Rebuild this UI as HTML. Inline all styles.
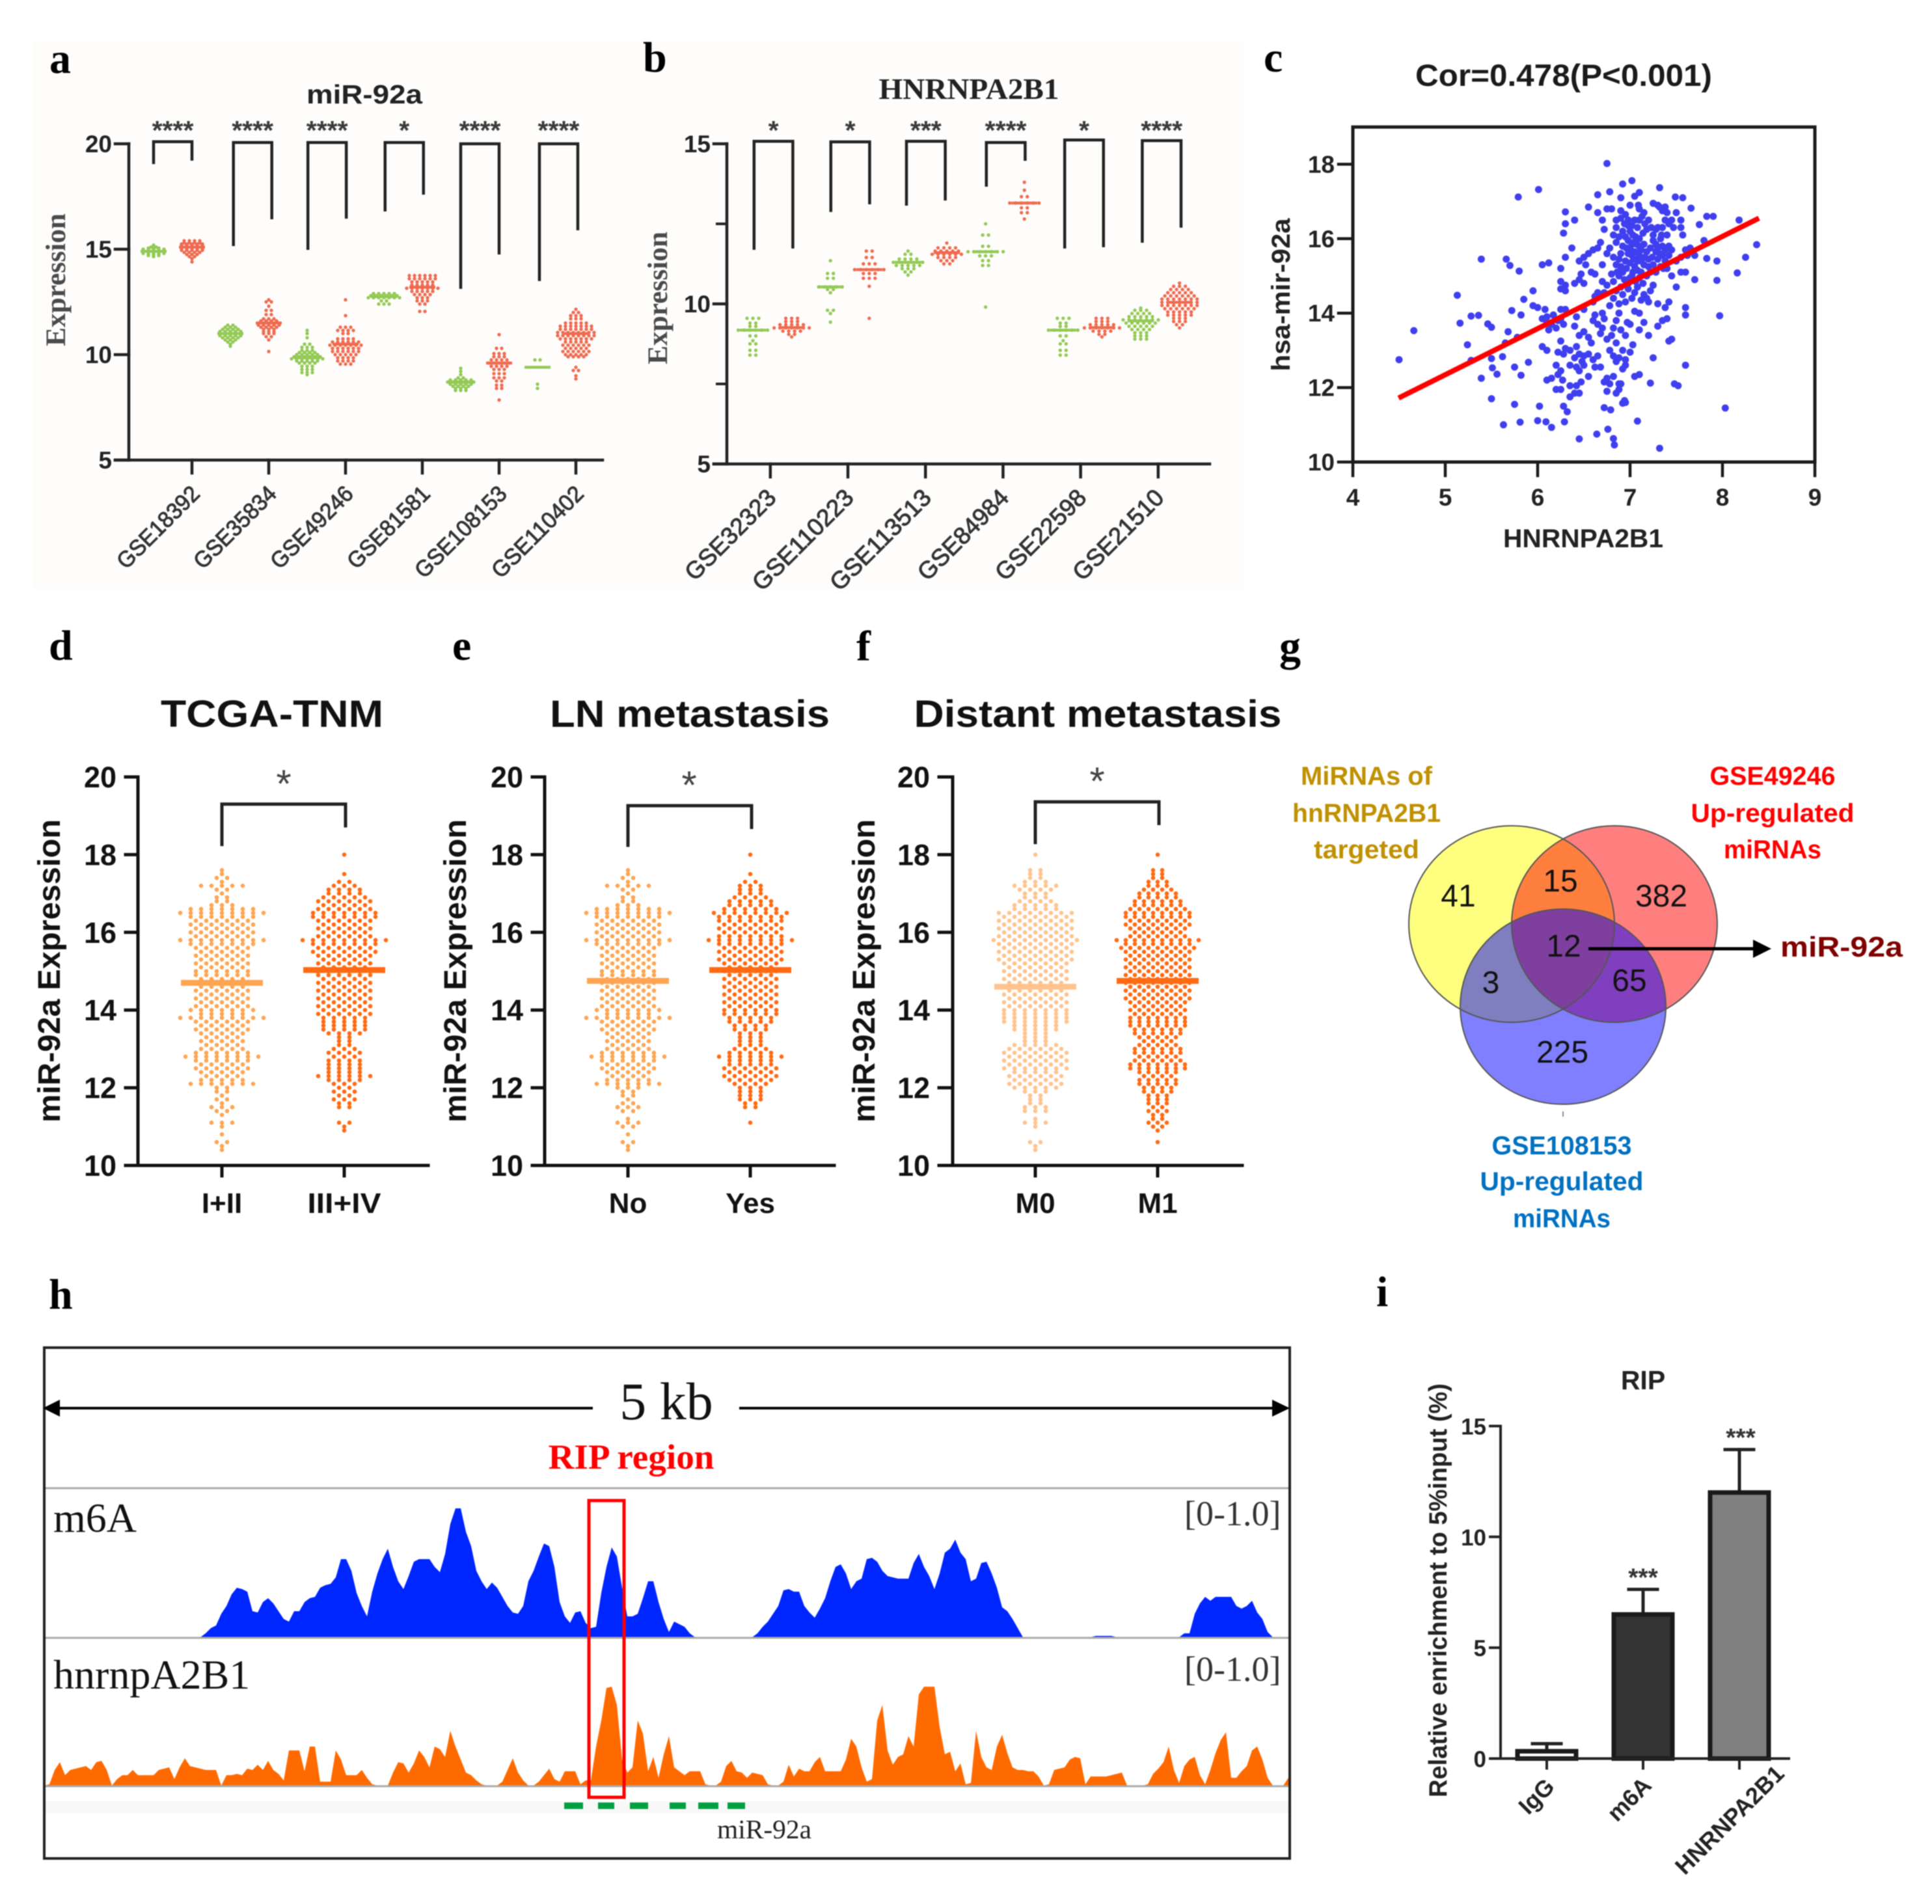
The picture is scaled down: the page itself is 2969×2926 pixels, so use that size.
<!DOCTYPE html>
<html lang="en">
<head>
<meta charset="utf-8">
<title>miR-92a and HNRNPA2B1 multi-panel figure</title>
<style>
html,body{margin:0;padding:0;background:#fff;}
svg{display:block;filter:blur(.7px);}
text{font-family:"Liberation Sans",sans-serif;}
.serif{font-family:"Liberation Serif",serif;}
.letter{font-family:"Liberation Serif",serif;font-weight:bold;font-size:66px;fill:#000;}
.b{font-weight:bold;}
</style>
</head>
<body>
<svg id="fig" width="2969" height="2926" viewBox="0 0 2969 2926">
<rect width="2969" height="2926" fill="#fff"/>
<rect x="50" y="62" width="1863" height="845" fill="#fefdfc"/>

<text class="letter" x="76" y="112">a</text>
<text class="letter" x="988" y="110">b</text>
<text class="letter" x="1942" y="110">c</text>
<text class="letter" x="75" y="1014">d</text>
<text class="letter" x="695" y="1014">e</text>
<text class="letter" x="1316" y="1015">f</text>
<text class="letter" x="1966" y="1015">g</text>
<text class="letter" x="75" y="2011">h</text>
<text class="letter" x="2115" y="2007">i</text>

<g id="panel-a">
<text class="b" x="560" y="159" font-size="41" text-anchor="middle" fill="#222" textLength="178" lengthAdjust="spacingAndGlyphs">miR-92a</text>
<text class="serif b" transform="translate(100,430) rotate(-90)" font-size="43" text-anchor="middle" fill="#4a4a4a" textLength="204" lengthAdjust="spacingAndGlyphs">Expression</text>
</g>

<g id="panel-b">
<text class="serif b" x="1489" y="152" font-size="46" text-anchor="middle" fill="#222" textLength="277" lengthAdjust="spacingAndGlyphs">HNRNPA2B1</text>
<text class="serif b" transform="translate(1025,458) rotate(-90)" font-size="43" text-anchor="middle" fill="#4a4a4a" textLength="204" lengthAdjust="spacingAndGlyphs">Expression</text>
</g>

<g id="panel-c">
<text class="b" x="2403" y="132" font-size="47" text-anchor="middle" fill="#1a1a1a" textLength="456" lengthAdjust="spacingAndGlyphs">Cor=0.478(P&lt;0.001)</text>
<text class="b" x="2433" y="841" font-size="40" text-anchor="middle" fill="#222" textLength="246" lengthAdjust="spacingAndGlyphs">HNRNPA2B1</text>
<text class="b" transform="translate(1982,453) rotate(-90)" font-size="40" text-anchor="middle" fill="#222" textLength="235" lengthAdjust="spacingAndGlyphs">hsa-mir-92a</text>
</g>

<g id="panel-d">
<text class="b" x="418" y="1117" font-size="58" text-anchor="middle" fill="#111" textLength="342" lengthAdjust="spacingAndGlyphs">TCGA-TNM</text>
<text class="b" transform="translate(92,1492) rotate(-90)" font-size="48" text-anchor="middle" fill="#111" textLength="466" lengthAdjust="spacingAndGlyphs">miR-92a Expression</text>
</g>

<g id="panel-e">
<text class="b" x="1060" y="1117" font-size="58" text-anchor="middle" fill="#111" textLength="430" lengthAdjust="spacingAndGlyphs">LN metastasis</text>
<text class="b" transform="translate(716,1492) rotate(-90)" font-size="48" text-anchor="middle" fill="#111" textLength="466" lengthAdjust="spacingAndGlyphs">miR-92a Expression</text>
</g>

<g id="panel-f">
<text class="b" x="1687" y="1117" font-size="58" text-anchor="middle" fill="#111" textLength="565" lengthAdjust="spacingAndGlyphs">Distant metastasis</text>
<text class="b" transform="translate(1344,1492) rotate(-90)" font-size="48" text-anchor="middle" fill="#111" textLength="466" lengthAdjust="spacingAndGlyphs">miR-92a Expression</text>
</g>

<g id="panel-g">
<ellipse cx="2323" cy="1420" rx="158" ry="151" fill="#ffff00" fill-opacity=".5"/>
<ellipse cx="2481" cy="1420" rx="158" ry="151" fill="#ff0000" fill-opacity=".5"/>
<ellipse cx="2402" cy="1547" rx="158" ry="150" fill="#0000ff" fill-opacity=".5"/>
<ellipse cx="2323" cy="1420" rx="158" ry="151" fill="none" stroke="#555" stroke-width="2"/>
<ellipse cx="2481" cy="1420" rx="158" ry="151" fill="none" stroke="#555" stroke-width="2"/>
<ellipse cx="2402" cy="1547" rx="158" ry="150" fill="none" stroke="#555" stroke-width="2"/>
<g font-size="48" text-anchor="middle" fill="#111">
<text x="2241" y="1393">41</text>
<text x="2398" y="1370">15</text>
<text x="2553" y="1393">382</text>
<text x="2403" y="1470">12</text>
<text x="2291" y="1526">3</text>
<text x="2504" y="1523">65</text>
<text x="2401" y="1633">225</text>
</g>
<g class="b" font-size="40" font-weight="bold" text-anchor="middle" fill="#bf9000">
<text x="2100" y="1206" textLength="202" lengthAdjust="spacingAndGlyphs">MiRNAs of</text>
<text x="2100" y="1263" textLength="228" lengthAdjust="spacingAndGlyphs">hnRNPA2B1</text>
<text x="2100" y="1319" textLength="162" lengthAdjust="spacingAndGlyphs">targeted</text>
</g>
<g font-size="40" font-weight="bold" text-anchor="middle" fill="#ff0000">
<text x="2724" y="1206" textLength="193" lengthAdjust="spacingAndGlyphs">GSE49246</text>
<text x="2724" y="1263" textLength="251" lengthAdjust="spacingAndGlyphs">Up-regulated</text>
<text x="2724" y="1319" textLength="150" lengthAdjust="spacingAndGlyphs">miRNAs</text>
</g>
<g font-size="40" font-weight="bold" text-anchor="middle" fill="#0070c0">
<text x="2400" y="1774" textLength="215" lengthAdjust="spacingAndGlyphs">GSE108153</text>
<text x="2400" y="1829" textLength="251" lengthAdjust="spacingAndGlyphs">Up-regulated</text>
<text x="2400" y="1886" textLength="150" lengthAdjust="spacingAndGlyphs">miRNAs</text>
</g>
<line x1="2402" y1="1708" x2="2402" y2="1716" stroke="#888" stroke-width="2"/>
<line x1="2441" y1="1458" x2="2700" y2="1458" stroke="#000" stroke-width="5"/>
<polygon points="2694,1444 2722,1458 2694,1472" fill="#000"/>
<text x="2736" y="1470" font-size="44" font-weight="bold" fill="#7f0000" textLength="188" lengthAdjust="spacingAndGlyphs">miR-92a</text>
</g>

<g id="panel-h">
<rect x="68" y="2768" width="1914" height="18" fill="#f8f8f8"/>
<g id="tracks"></g>
<line x1="68" y1="2287" x2="1982" y2="2287" stroke="#aaa" stroke-width="3"/>
<line x1="68" y1="2517" x2="1982" y2="2517" stroke="#aaa" stroke-width="3"/>
<line x1="68" y1="2745" x2="1982" y2="2745" stroke="#aaa" stroke-width="3"/>
<rect x="68" y="2071" width="1914" height="785" fill="none" stroke="#222" stroke-width="4"/>
<line x1="85" y1="2164" x2="911" y2="2164" stroke="#000" stroke-width="4"/>
<polygon points="66,2164 92,2151 92,2177" fill="#000"/>
<line x1="1136" y1="2164" x2="1960" y2="2164" stroke="#000" stroke-width="4"/>
<polygon points="1982,2164 1955,2151 1955,2177" fill="#000"/>
<text class="serif" x="1024" y="2181" font-size="82" text-anchor="middle" fill="#111">5 kb</text>
<text class="serif b" x="970" y="2257" font-size="54" text-anchor="middle" fill="#ff0000" textLength="255" lengthAdjust="spacingAndGlyphs">RIP region</text>
<text class="serif" x="82" y="2354" font-size="64" fill="#111">m6A</text>
<text class="serif" x="82" y="2595" font-size="64" fill="#111">hnrnpA2B1</text>
<text class="serif" x="1820" y="2344" font-size="54" fill="#333">[0-1.0]</text>
<text class="serif" x="1820" y="2583" font-size="54" fill="#333">[0-1.0]</text>
<rect x="905" y="2306" width="54" height="456" fill="none" stroke="#ff0000" stroke-width="5"/>
<rect x="867" y="2770" width="29" height="10" fill="#00a040"/>
<rect x="919" y="2770" width="25" height="10" fill="#00a040"/>
<rect x="968" y="2770" width="28" height="10" fill="#00a040"/>
<rect x="1029" y="2770" width="25" height="10" fill="#00a040"/>
<rect x="1073" y="2770" width="31" height="10" fill="#00a040"/>
<rect x="1118" y="2770" width="27" height="10" fill="#00a040"/>
<text class="serif" x="1102" y="2825" font-size="41" fill="#222" textLength="145" lengthAdjust="spacingAndGlyphs">miR-92a</text>
</g>

<g id="panel-i">
<text class="b" x="2525" y="2135" font-size="41" text-anchor="middle" fill="#222">RIP</text>
<text class="b" transform="translate(2223,2444) rotate(-90)" font-size="39" text-anchor="middle" fill="#222" textLength="636" lengthAdjust="spacingAndGlyphs">Relative enrichment to 5%input (%)</text>
<text class="b" transform="translate(2391,2748) rotate(-45)" font-size="36" text-anchor="end" fill="#222">IgG</text>
<text class="b" transform="translate(2540,2746) rotate(-45)" font-size="36" text-anchor="end" fill="#222">m6A</text>
<text class="b" transform="translate(2744,2728) rotate(-45)" font-size="36" text-anchor="end" fill="#222" textLength="219" lengthAdjust="spacingAndGlyphs">HNRNPA2B1</text>
</g>
</svg>

<script>
/* ---------- panel a data ---------- */
const aCategories=['GSE18392','GSE35834','GSE49246','GSE81581','GSE108153','GSE110402'];
const aTicks=[5,10,15,20];
const aMeans=[14.9,15.1,11,11.5,9.85,10.5,12.75,13.2,8.7,9.6,9.4,11];
const aStars=['****','****','****','*','****','****'];
const aBracketStart=[0,2.08,4.02,6.03,8,10.05];
const aBracketTop=[20.1,20.06,20.06,20.06,20,20];
const aBracketLeftEnd=[19.04,15.15,14.97,16.79,13.12,13.49];
const aBracketRightEnd=[19.2,16.42,16.45,17.59,14.75,15.9];
const aGroups=[
[[14.65,1],[14.7,3],[14.75,3],[14.8,5],[14.85,5],[14.9,5],[14.95,5],[15,5],[15.05,3],[15.1,2],[15.2,1]],
[[14.4,1],[14.55,1],[14.65,2],[14.75,3],[14.85,4],[14.95,5],[15,5],[15.05,5],[15.1,5],[15.15,5],[15.2,5],[15.25,5],[15.3,4],[15.4,4]],
[[10.4,1],[10.5,1],[10.6,2],[10.7,3],[10.8,4],[10.9,5],[11,5],[11.1,5],[11.2,4],[11.3,3],[11.4,2]],
[[10.15,1],[10.7,1],[10.85,2],[11,3],[11.1,3],[11.2,3],[11.3,4],[11.4,5],[11.5,5],[11.6,4],[11.7,3],[11.9,2],[12.1,2],[12.3,1],[12.5,2],[12.6,1]],
[[9.05,1],[9.15,3],[9.3,3],[9.45,3],[9.6,4],[9.7,5],[9.8,7],[9.9,6],[10,5],[10.1,4],[10.2,3],[10.35,3],[10.5,2],[10.8,1],[11,1],[11.15,1]],
[[9.55,3],[9.7,4],[9.85,4],[10,5],[10.15,6],[10.3,6],[10.45,7],[10.6,6],[10.75,4],[11,2],[11.15,4],[11.3,3],[11.85,1],[12.6,1]],
[[12.4,3],[12.55,2],[12.7,7],[12.8,6],[12.9,5]],
[[12.05,2],[12.4,2],[12.55,3],[12.7,3],[12.85,4],[13,5],[13.15,7],[13.3,5],[13.45,5],[13.6,6],[13.75,6]],
[[8.3,3],[8.4,3],[8.5,4],[8.6,5],[8.7,6],[8.8,5],[8.9,2],[9.05,1],[9.2,1],[9.35,1]],
[[7.85,1],[8.4,2],[8.55,2],[8.75,2],[8.9,3],[9.1,3],[9.3,3],[9.45,4],[9.6,5],[9.75,4],[9.9,3],[10.05,3],[10.3,2],[10.95,1]],
[[8.4,1],[8.6,1],[9.75,2]],
[[8.85,1],[9,1],[9.25,2],[9.4,1],[9.9,4],[10,5],[10.15,6],[10.3,5],[10.45,6],[10.6,5],[10.75,7],[10.9,8],[11.05,8],[11.2,7],[11.35,7],[11.5,5],[11.7,3],[11.85,3],[12,2],[12.15,1]]
];

/* ---------- panel b data ---------- */
const bCategories=['GSE32323','GSE110223','GSE113513','GSE84984','GSE22598','GSE21510'];
const bTicks=[5,10,15];
const bMinorTicks=[7.5,12.5];
const bMeans=[9.18,9.26,10.53,11.07,11.3,11.6,11.63,13.15,9.18,9.26,9.47,10.05];
const bStars=['*','*','***','****','*','****'];
const bBracketStart=[0.03,2.01,3.96,6.02,8.04,10.04];
const bBracketTop=[15.08,15.06,15.08,15.04,15.12,15.1];
const bBracketLeftEnd=[11.69,12.87,13.07,13.66,11.73,11.91];
const bBracketRightEnd=[11.73,13.11,13.23,14.47,11.77,12.38];
const bGroups=[
[[8.4,2],[8.55,2],[8.75,2],[8.85,1],[9,2],[9.18,6],[9.3,2],[9.4,2],[9.55,3]],
[[8.97,1],[9.05,2],[9.15,4],[9.25,7],[9.35,5],[9.45,3],[9.55,3]],
[[9.43,1],[9.7,1],[9.8,2],[10.35,1],[10.45,2],[10.53,5],[10.8,2],[10.95,2],[11.35,1]],
[[9.55,1],[10.55,1],[10.8,3],[10.95,3],[11.07,6],[11.25,3],[11.45,2],[11.65,2]],
[[10.9,1],[11,2],[11.1,3],[11.2,5],[11.3,6],[11.4,4],[11.55,2],[11.65,1]],
[[11.25,2],[11.35,3],[11.45,4],[11.55,6],[11.65,5],[11.75,4],[11.9,1]],
[[9.9,1],[11.2,2],[11.35,2],[11.5,3],[11.63,7],[11.8,2],[12.15,2],[12.5,1]],
[[12.65,1],[12.85,2],[13,2],[13.15,6],[13.35,2],[13.55,1],[13.8,1]],
[[8.4,2],[8.55,2],[8.75,2],[8.85,1],[9,2],[9.18,6],[9.3,2],[9.4,2],[9.55,3]],
[[8.97,1],[9.05,2],[9.15,4],[9.25,7],[9.35,5],[9.45,3],[9.55,3]],
[[8.9,3],[9,3],[9.1,3],[9.2,4],[9.3,5],[9.4,6],[9.5,7],[9.6,5],[9.7,4],[9.8,3],[9.87,1]],
[[9.25,1],[9.35,2],[9.45,3],[9.55,3],[9.65,5],[9.75,5],[9.85,6],[9.95,7],[10.05,7],[10.15,7],[10.25,6],[10.35,5],[10.45,4],[10.55,3],[10.65,1]]
];

/* ---------- panel c data ---------- */
const cXTicks=[4,5,6,7,8,9];
const cYTicks=[10,12,14,16,18];
const cFitX=[4.52,8.37];
const cFitY=[11.75,16.52];
const cPoints=[[4.5,12.75],[4.66,13.53],[5.13,14.48],[5.16,13.73],[5.24,13.15],[5.28,13.92],[5.36,13.94],[5.39,15.45],[5.46,13.71],[5.5,13.62],[5.28,12.73],[5.5,12.78],[5.51,12.53],[5.56,12.36],[5.39,12.25],[5.5,11.7],[5.66,15.45],[5.7,15.28],[5.79,17.12],[6.01,17.32],[5.8,15.13],[5.75,11.55],[5.63,11],[5.81,11.07],[6,11.11],[6.09,11.08],[6.15,10.93],[6.29,11.08],[6.02,11.5],[6.28,11.5],[6.32,11.35],[6.45,10.62],[6.64,10.75],[6.76,10.88],[6.82,10.63],[6.83,10.46],[7.32,10.37],[7.08,11.1],[8.03,11.45],[6.72,11.46],[6.79,11.4],[6.92,11.58],[6.94,11.65],[8.37,15.84],[8.18,16.5],[8.25,15.5],[8.16,15.08],[7.94,15.4],[7.94,14.88],[7.97,13.93],[7.9,16.6],[7.83,16.6],[7.83,15.47],[7.8,15.95],[7.75,16.38],[7.66,16.82],[7.57,17.1],[7.49,17.12],[7.32,17.37],[7.02,17.56],[6.92,17.47],[6.75,18.02],[6.78,17.26],[6.65,17.18],[6.9,17.1],[7.05,17.14],[7.1,17.24],[7.09,16.9],
[5.68,13.5],[5.65,13.2],[5.78,13.35],[5.62,12.83],[5.75,12.55],[5.82,12.33],[5.9,12.68],[5.82,13.95],[5.85,14.37],[5.72,14.07],[5.95,14.6],
[6.1,13.9],[6.15,13.7],[6.05,13.85],[6.1,13.75],[6.2,13.6],[6.12,13.55],[6.17,13.95],[6.08,14.1],[6,14.15],[5.95,14.2],[6.22,13.8],[6.25,14.1],[6.25,13.85],[6.28,13.7],[6.3,14.1],[6.05,13.1],[6.1,13],[6.25,13.25],[6.3,13.05],[6.22,12.95],[6.28,12.9],[6.35,13],[6.42,13.1],[6.45,12.9],[6.4,12.8],[6.48,12.7],[6.5,12.85],[6.55,12.9],[6.58,13.2],[6.55,13.35],[6.45,13.4],[6.5,13.5],[6.4,13.65],[6.42,13.9],[6.5,14.1],[6.6,14.3],[6.62,13.95],[6.6,13.8],[6.65,13.7],[6.7,14],[6.72,13.85],[6.7,13.6],[6.68,13.45],[6.75,13.3],[6.8,13.4],[6.82,13.6],[6.85,13.8],[6.88,14],[6.78,14.2],[6.82,14.4],[6.88,14.25],[6.9,13.55],[6.95,13.4],[6.97,13.75],[7,13.7],[6.85,13.2],[6.78,13],[6.82,12.85],[6.85,12.7],[6.88,12.8],[6.92,13],[7,12.95],[7.03,13.15],[6.95,12.75],[6.92,12.5],[6.95,12.6],[7.05,12.3],[7.1,12.35],[7.22,12.12],[7.25,12.8],[7.2,13.4],[7.1,13.55],[7.15,13.75],[7.3,13.65],[7.35,13.8],[7.4,13.85],[7.42,13.25],[7.45,13.3],[7.6,13.95],[7.6,14.15],[7.42,14.3],[7.38,14.15],[7.3,14.25],[7.6,12.6],[7.52,12.05],[7.48,12.1],
[6.15,12.25],[6.1,12.2],[6.2,12.6],[6.25,12.45],[6.22,12.35],[6.27,12.2],[6.2,11.95],[6.25,11.95],[6.35,11.75],[6.4,11.85],[6.45,11.85],[6.35,12.05],[6.42,12.05],[6.47,12.15],[6.35,12.6],[6.42,12.55],[6.45,12.45],[6.5,12.6],[6.55,12.3],[6.62,12.55],[6.68,12.55],[6.65,12.85],[6.6,12.75],[6.75,12.25],[6.78,12.1],[6.82,12.3],[6.75,11.9],[6.72,12.15],[6.88,12.1],[6.9,12.1],[6.85,11.85],[6.88,11.95],[6.95,11.6],
[6.3,14.6],[6.25,14.85],[6.25,14.65],[6.3,14.75],[6.25,15.2],[6.05,15.3],[6.12,15.35],[6.3,15.5],[6.37,15.75],[6.4,16.5],[6.3,16.72],[6.3,16.4],[6.28,16.15],[6.4,14.8],[6.45,14.9],[6.47,15.05],[6.5,14.8],[6.45,15.4],[6.5,15.5],[6.55,15.6],[6.52,15.3],[6.58,15.1],[6.6,15.7],[6.65,15.75],[6.68,15.9],[6.55,16.85],[6.65,16.7],[6.7,16.5],[6.72,16.25],[6.75,16.8],[6.75,15.6],[6.7,15.3],[6.62,15.05],[6.7,14.85],[6.72,14.55],[6.62,14.45],[6.65,14.55],[6.75,14.75],[6.8,15.05],[6.85,14.6],[6.82,14.85],[6.88,15],[6.9,14.7],[6.95,14.3],[6.92,14.5],[6.98,14.65],[7.02,14.4],[7.05,14.55],[7.08,14.7],[7.12,14.35],[7.15,14.5],[7.18,14.4],[7.2,14.3],[7.1,14],[7.05,14.05],[7.22,14.6],[7.25,14.75],[7,14.95],[7.03,15.1],[7.05,15.25],[7.08,15.4],[7.1,15.55],[7.12,15.1],[7.15,15.3],[7.18,15],[7.22,15.1],[7.25,15.3],[7.28,15.1],[7.3,15.45],[7.33,15.25],[7.35,15.55],[7.38,15.4],[7.4,15.2],[7.42,15.55],[7.45,15],[7.5,15.4],[7.55,15.1],[7.6,15.1],[7.55,15.5],[7.6,15.7],[7.62,15.55],[7.65,15.75],[7.7,14.9],[7.7,15.55],[7.5,14.7],
[6.85,15.3],[6.88,15.45],[6.9,15.6],[6.82,15.5],[6.92,15.8],[6.95,15.4],[6.98,15.6],[7,15.75],[7.02,15.55],[7.04,15.9],[6.98,15.95],[6.95,16.05],[6.92,16.2],[7,16.2],[7.03,16.1],[7.05,15.65],[7.07,15.85],[7.1,16],[7.12,15.7],[7.15,15.85],[7.18,15.65],[7.2,15.45],[7.22,15.75],[7.25,15.95],[7.28,15.65],[7.3,15.75],[7.33,16],[7.35,15.8],[7.38,15.7],[7.42,15.8],[7.45,15.7],[7.02,16.35],[7.05,16.5],[7.08,16.3],[7.1,16.5],[7.13,16.6],[7.16,16.4],[7.2,16.5],[7.23,16.3],[7.25,16.1],[7.28,16.25],[7.3,16.3],[7.32,16.85],[7.35,16.75],[7.38,16.85],[7.3,16.9],[7.4,16.7],[7.42,16.4],[7.45,16.5],[7.47,16.3],[7.5,16.7],[7.55,16.5],[7.55,16.3],[7.57,16.1],[6.85,16.3],[6.82,16.1],[6.85,16.5],[6.88,16.05],[6.9,16.55],[6.95,16.65],[6.98,16.5],[6.85,15.9],[6.78,15.75],[6.8,16.8],[7.1,16.8],[7,16.9],[6.9,16.75],[7.15,16.7],[7.25,16.95],[7.35,16.3],[7.4,16.1],
[6.96,15.2],[7,15.35],[7.04,15.45],[7.08,15.15],[7.02,15],[7.1,15.8],[7.06,16.05],[7.14,16.15],[7.18,16.25],[7.12,15.4],[7.16,15.5],[7.2,15.25],[7.24,15.5],[7.28,15.85],[7.32,15.6],[7.36,15.2],[6.92,15.1],[6.94,14.9],[6.98,14.8],[7.06,14.85],[7.1,14.95],[7.14,14.8],[6.98,16.35],[6.94,16.4],[7.02,15.85],[6.96,15.75],[6.9,15.25],[6.86,15.1],[7.34,16.1],[7.38,16.5]];

/* ---------- panels d, e, f data (dots per expression level) ---------- */
const swarmTicks=[10,12,14,16,18,20];
const swarmLevels=[10.4,10.5,10.6,10.7,10.8,10.9,
11,11.1,11.2,11.3,11.4,11.5,11.6,11.7,11.8,11.9,
12,12.1,12.2,12.3,12.4,12.5,12.6,12.7,12.8,12.9,
13,13.1,13.2,13.3,13.4,13.5,13.6,13.7,13.8,13.9,
14,14.1,14.2,14.3,14.4,14.5,14.6,14.7,14.8,14.9,
15,15.1,15.2,15.3,15.4,15.5,15.6,15.7,15.8,15.9,
16,16.1,16.2,16.3,16.4,16.5,16.6,16.7,16.8,16.9,
17,17.1,17.2,17.3,17.4,17.5,17.6,17.7,17.8,17.9,
18,18.1];
const dCountsEarly=[1,1,2,0,1,0, 1,3,0,1,2,3,1,2,1,2, 2,7,5,4,5,6,5,6,8,6, 5,4,5,4,5,6,5,6,9,5, 7,6,5,6,5,6,5,6,5,6, 6,5,6,5,6,5,6,7,9,6, 7,6,7,6,7,9,7,3,2,2, 1,2,5,1,2,1,1,0,0,0, 0,0];
const dCountsLate=[0,0,0,0,0,1, 1,2,0,0,0,2,2,3,2,3, 2,3,4,6,4,4,4,4,3,4, 3,2,2,2,4,5,5,5,5,6, 5,6,5,6,5,6,5,6,5,6, 6,5,6,5,6,7,6,7,9,6, 5,6,5,6,7,7,6,5,6,5, 4,4,3,2,0,1,0,0,0,0, 1,0];
const eCountsNo=[1,1,2,0,1,0, 2,3,1,0,2,3,2,1,2,2, 3,7,5,4,5,6,5,6,8,6, 5,4,5,4,5,6,5,6,9,5, 7,6,5,6,5,6,5,6,5,6, 6,5,6,5,6,5,6,7,9,6, 7,6,7,6,7,9,7,3,2,2, 1,2,5,1,2,1,1,0,0,0, 0,0];
const eCountsYes=[0,0,0,0,0,0, 0,1,0,0,0,2,2,3,3,3, 3,4,5,6,5,6,5,5,7,5, 4,3,3,3,3,4,4,5,5,6, 6,5,6,5,6,5,6,5,6,5, 6,5,6,7,6,7,6,7,9,7, 6,7,6,7,7,8,6,5,5,4, 3,3,3,2,0,1,0,0,0,0, 1,0];
const fCountsM0=[1,1,2,0,0,0, 1,3,1,0,3,3,2,2,2,3, 5,6,5,6,5,7,6,7,6,7, 6,5,3,3,3,5,5,7,7,7, 7,6,7,6,7,6,7,6,7,6, 7,6,7,8,7,8,7,8,9,8, 7,8,7,8,7,8,5,5,4,3, 3,4,5,3,2,2,2,0,0,0, 1,0];
const fCountsM1=[0,0,1,0,0,1, 2,3,2,2,3,2,3,3,3,4, 4,5,5,4,5,7,7,6,5,6, 6,5,4,5,6,6,7,7,7,6, 7,6,7,8,7,8,7,8,7,8, 7,8,7,8,7,8,9,8,10,7, 6,7,8,7,8,8,7,6,6,5, 5,4,3,3,2,2,2,0,0,0, 1,0];
const dCategories=['I+II','III+IV'];
const eCategories=['No','Yes'];
const fCategories=['M0','M1'];
const dMeans=[14.7,15.03];
const eMeans=[14.75,15.03];
const fMeans=[14.6,14.75];
const dBracket=[19.3,18.22,18.7];
const eBracket=[19.26,18.2,18.66];
const fBracket=[19.36,18.27,18.76];

/* ---------- panel h data (signal % per 8-px genome bin) ---------- */
const m6aSignal=[0,0,0,0,0,0,0,0,0,0,0,0,0,0,0,0,0,0,0,0,0,0,0,0,0,0,0,0,0,0,0,
3,7,9,18,24,33,38,37,35,20,
19,27,30,26,20,14,12,20,20,27,
30,31,38,40,41,46,60,60,51,34,
24,16,35,49,60,68,54,43,37,47,
58,60,60,60,54,50,64,87,99,99,
81,70,51,43,37,42,38,31,24,19,
18,24,43,51,62,72,70,54,27,16,
11,19,20,11,7,8,34,54,69,62,
38,16,16,18,30,43,43,27,14,4,
12,10,8,3,
0,0,0,0,0,0,0,0,0,0,0,0,
3,8,12,18,
24,36,37,35,35,24,19,15,22,30,
43,54,56,49,37,43,45,60,61,58,
51,47,46,45,45,45,57,64,54,47,
37,49,65,68,75,65,60,43,45,57,
58,49,38,23,20,14,7,
0,0,0,0,0,0,0,0,0,0,0,0,0,0,
1,1,1,1,
0,0,0,0,0,0,0,0,0,0,0,0,0,
3,3,18,26,31,28,31,31,31,31,24,22,24,28,19,14,4,
0,0,0,0];
const hnrnpSignal=[0,1,12,18,8,12,13,14,15,12,
18,19,12,0,5,8,8,12,8,8,
8,8,12,13,14,5,14,21,15,14,
13,12,12,12,0,8,8,9,8,13,
12,16,12,19,12,9,4,27,27,27,
11,30,30,3,3,3,27,20,8,8,
8,12,6,1,0,0,0,10,18,17,
10,17,27,22,14,30,28,22,42,30,
20,10,8,4,1,0,0,0,3,12,
21,10,4,0,0,3,8,13,5,3,
11,11,11,1,4,4,30,50,75,76,
62,20,10,14,50,40,11,22,6,24,
38,14,11,8,11,11,11,1,0,0,
3,15,19,11,10,6,10,9,8,1,
0,0,3,16,7,13,11,11,18,22,
11,11,11,11,20,36,30,14,3,5,
50,62,27,16,22,24,38,30,70,76,
76,76,45,24,26,11,17,1,2,42,
22,14,12,30,39,25,14,12,12,11,
11,7,0,1,12,13,14,20,22,21,
1,7,7,7,7,8,9,10,0,0,
0,0,1,9,13,18,30,12,2,15,
20,22,8,1,12,25,35,41,6,6,
11,15,27,30,20,6,0,0,0,6];

/* ---------- panel i data ---------- */
const iTicks=[0,5,10,15];
const iCategories=['IgG','m6A','HNRNPA2B1'];
const iValues=[0.33,6.5,12];
const iErrorTops=[0.67,7.63,13.94];
const iFills=['#ffffff','#333333','#808080'];
const iStars=['','***','***'];

/* ---------- helpers ---------- */
const SVGNS=document.getElementById('fig').namespaceURI;
function panel(id){return document.getElementById(id);}
function mk(tag,parent,attrs,name){
  const el=document.createElementNS(SVGNS,tag);
  for(const k in attrs){el.setAttribute(k,attrs[k]);}
  
  
  parent.appendChild(el);
  return el;
}
function ln(p,x1,y1,x2,y2,color,w,name){return mk('line',p,{x1,y1,x2,y2,stroke:color,'stroke-width':w,'stroke-linecap':'square'},name);}
function label(p,x,y,str,size,anchor,weight,color,name,extra){
  const el=mk('text',p,Object.assign({x,y,'font-size':size,'text-anchor':anchor,'font-weight':weight,fill:color},extra||{}),name);
  el.textContent=str;
  return el;
}
function dots(p,rows,cx,yFn,spacing,r,color,name){
  rows.forEach(function(row){
    const v=row[0],c=row[1];
    for(let i=0;i<c;i++){
      mk('circle',p,{cx:cx+(i-(c-1)/2)*spacing,cy:yFn(v),r:r,fill:color},name);
    }
  });
}
function bracket(p,x1,x2,yTop,yLeft,yRight,w,name){
  mk('path',p,{d:'M'+x1+' '+yLeft+'V'+yTop+'H'+x2+'V'+yRight,fill:'none',stroke:'#222','stroke-width':w,'stroke-linejoin':'miter'},name);
}

/* ---------- panels a and b ---------- */
function datasetPanel(g,cfg){
  const y=cfg.y,x=cfg.x;
  ln(g,cfg.axisX,y(cfg.top),cfg.axisX,y(5),'#222',4.5,'y-axis-line');
  ln(g,cfg.tickStart,y(5),cfg.axisEnd,y(5),'#222',4.5,'x-axis-line');
  cfg.ticks.forEach(function(t){
    ln(g,cfg.tickStart,y(t),cfg.axisX,y(t),'#222',4.5,'y-tick');
    label(g,cfg.tickStart-5,y(t)+13,String(t),37,'end','bold','#222','y-tick-label');
  });
  cfg.minor.forEach(function(t){ln(g,cfg.tickStart+5,y(t),cfg.axisX,y(t),'#222',4,'y-minor-tick');});
  cfg.groups.forEach(function(rows,i){
    const col=i%2===0?'#93c955':'#ee6b50';
    dots(g,rows,x(i),y,cfg.spacing,2.7,col,i%2===0?'normal-dot':'tumor-dot');
    mk('rect',g,{x:x(i)-20,y:y(cfg.means[i])-2.2,width:40,height:4.4,fill:col},'mean-line');
  });
  cfg.cats.forEach(function(c,i){
    const tx=x(i*2+cfg.tickShift);
    ln(g,tx,y(5),tx,y(5)+20,'#222',4.5,'x-tick');
    const bx=tx+cfg.labelDx,by=cfg.labelY;
    const len=(c.length===9?cfg.len9:cfg.len8);
    label(g,0,0,c,cfg.labelSize,'end','normal','#333','x-tick-label',{transform:'translate('+bx+','+by+') rotate(-45)',textLength:len,lengthAdjust:'spacingAndGlyphs',stroke:'#333','stroke-width':1});
    const xa=x(cfg.bStart[i]),xb=x(cfg.bStart[i]+1);
    bracket(g,xa,xb,y(cfg.bTop[i]),y(cfg.bLeft[i]),y(cfg.bRight[i]),4.5,'significance-bracket');
    label(g,(xa+xb)/2,214,cfg.stars[i],41,'middle','bold','#3a3a3a','significance-stars');
  });
}
datasetPanel(panel('panel-a'),{
  y:function(v){return 707-(v-5)*32.4;},x:function(g){return 236+59*g;},
  axisX:198,tickStart:177,axisEnd:926,top:20,ticks:aTicks,minor:[],groups:aGroups,means:aMeans,cats:aCategories,
  spacing:8,tickShift:1,labelDx:14,labelY:761,labelSize:35,len8:163,len9:183,
  bStart:aBracketStart,bTop:aBracketTop,bLeft:aBracketLeftEnd,bRight:aBracketRightEnd,stars:aStars
});
datasetPanel(panel('panel-b'),{
  y:function(v){return 713-(v-5)*49.2;},x:function(g){return 1157+59.6*g;},
  axisX:1117,tickStart:1097,axisEnd:1859,top:15,ticks:bTicks,minor:bMinorTicks,groups:bGroups,means:bMeans,cats:bCategories,
  spacing:9,tickShift:0.45,labelDx:11,labelY:767,labelSize:37,len8:180,len9:202,
  bStart:bBracketStart,bTop:bBracketTop,bLeft:bBracketLeftEnd,bRight:bBracketRightEnd,stars:bStars
});

/* ---------- panel c ---------- */
(function(){
  const g=panel('panel-c');
  const x=function(v){return 2079+(v-4)*142;};
  const y=function(v){return 710-(v-10)*57.2;};
  cPoints.forEach(function(p){
    mk('circle',g,{cx:x(p[0]),cy:y(p[1]),r:5.5,fill:'#3f3ff0'},'scatter-point');
  });
  ln(g,x(cFitX[0]),y(cFitY[0]),x(cFitX[1]),y(cFitY[1]),'#ff0000',8,'regression-line');
  mk('rect',g,{x:x(4),y:y(19),width:x(9)-x(4),height:y(10)-y(19),fill:'none',stroke:'#1a1a1a','stroke-width':5},'plot-frame');
  cXTicks.forEach(function(t){
    ln(g,x(t),y(10),x(t),y(10)+21,'#1a1a1a',4.5,'x-tick');
    label(g,x(t),777,String(t),37,'middle','bold','#222','x-tick-label');
  });
  cYTicks.forEach(function(t){
    ln(g,x(4)-22,y(t),x(4),y(t),'#1a1a1a',4.5,'y-tick');
    label(g,2051,y(t)+13,String(t),37,'end','bold','#222','y-tick-label');
  });
})();

/* ---------- panels d, e, f ---------- */
function swarmPanel(g,cfg){
  const y=function(v){return 1791-(v-10)*59.7;};
  const rowsOf=function(counts){return swarmLevels.map(function(v,i){return [v,counts[i]||0];});};
  ln(g,cfg.axisX,y(20),cfg.axisX,y(10),'#111',5,'y-axis-line');
  ln(g,cfg.tickStart,y(10),cfg.axisEnd,y(10),'#111',5,'x-axis-line');
  swarmTicks.forEach(function(t){
    ln(g,cfg.tickStart,y(t),cfg.axisX,y(t),'#111',5,'y-tick');
    label(g,cfg.tickStart-14,y(t)+16,String(t),45,'end','bold','#111','y-tick-label');
  });
  cfg.cats.forEach(function(c,i){
    dots(g,rowsOf(cfg.counts[i]),cfg.xs[i],y,cfg.spacing[i],3.3,cfg.colors[i],'sample-dot');
    mk('rect',g,{x:cfg.xs[i]-63,y:y(cfg.means[i])-4.5,width:126,height:9,fill:cfg.colors[i]},'mean-line');
    ln(g,cfg.xs[i],y(10),cfg.xs[i],y(10)+16,'#111',5,'x-tick');
    label(g,cfg.xs[i],1864,c,44,'middle','bold','#111','x-tick-label',c==='III+IV'?{textLength:113,lengthAdjust:'spacingAndGlyphs'}:{});
  });
  bracket(g,cfg.xs[0],cfg.xs[1]+2,y(cfg.bracket[0]),y(cfg.bracket[1]),y(cfg.bracket[2]),5,'significance-bracket');
  label(g,cfg.starX,y(cfg.bracket[0])-11,'*',60,'middle','normal','#444','significance-star');
}
swarmPanel(panel('panel-d'),{axisX:212,tickStart:193,axisEnd:658,xs:[341,529],spacing:[16,16],cats:dCategories,counts:[dCountsEarly,dCountsLate],colors:['#ffa552','#ff6a13'],means:dMeans,bracket:dBracket,starX:436});
swarmPanel(panel('panel-e'),{axisX:837,tickStart:818,axisEnd:1282,xs:[965,1153],spacing:[16,16],cats:eCategories,counts:[eCountsNo,eCountsYes],colors:['#ffa552','#ff6a13'],means:eMeans,bracket:eBracket,starX:1059});
swarmPanel(panel('panel-f'),{axisX:1464,tickStart:1443,axisEnd:1909,xs:[1591,1779],spacing:[16,14],cats:fCategories,counts:[fCountsM0,fCountsM1],colors:['#ffc48e','#ff6a13'],means:fMeans,bracket:fBracket,starX:1686});

/* ---------- panel h ---------- */
(function(){
  const g=panel('tracks');
  const x=function(i){return 68+8*i;};
  const area=function(values,base){
    let d='M'+x(0)+' '+base;
    values.forEach(function(v,i){d+='L'+x(i)+' '+(base-v*2);});
    return d+'L'+x(values.length-1)+' '+base+'Z';
  };
  mk('path',g,{d:area(m6aSignal,2516),fill:'#0026ff'},'m6a-signal-area');
  mk('path',g,{d:area(hnrnpSignal,2744),fill:'#ff6a00'},'hnrnpa2b1-signal-area');
})();

/* ---------- panel i ---------- */
(function(){
  const g=panel('panel-i');
  const y=function(v){return 2702.5-v*34.07;};
  const x=function(i){return 2377+i*148;};
  iCategories.forEach(function(c,i){
    ln(g,x(i),y(iValues[i]),x(i),y(iErrorTops[i]),'#222',5,'error-bar');
    ln(g,x(i)-22,y(iErrorTops[i]),x(i)+22,y(iErrorTops[i]),'#222',5,'error-cap');
    mk('rect',g,{x:x(i)-45,y:y(iValues[i]),width:90,height:y(0)-y(iValues[i]),fill:iFills[i],stroke:'#1a1a1a','stroke-width':7},'bar-'+c.toLowerCase());
    ln(g,x(i),y(0),x(i),y(0)+15,'#222',4,'x-tick');
    if(iStars[i]){label(g,x(i)+(i===2?2:0),y(iErrorTops[i])-5,iStars[i],39,'middle','bold','#333','significance-stars');}
  });
  ln(g,2306,y(15),2306,y(0),'#222',4,'y-axis-line');
  ln(g,2290,y(0),2749,y(0),'#222',4,'x-axis-line');
  iTicks.forEach(function(t){
    ln(g,2290,y(t),2306,y(t),'#222',4,'y-tick');
    label(g,2284,y(t)+13,String(t),35,'end','bold','#222','y-tick-label');
  });
})();
</script>
</body>
</html>
